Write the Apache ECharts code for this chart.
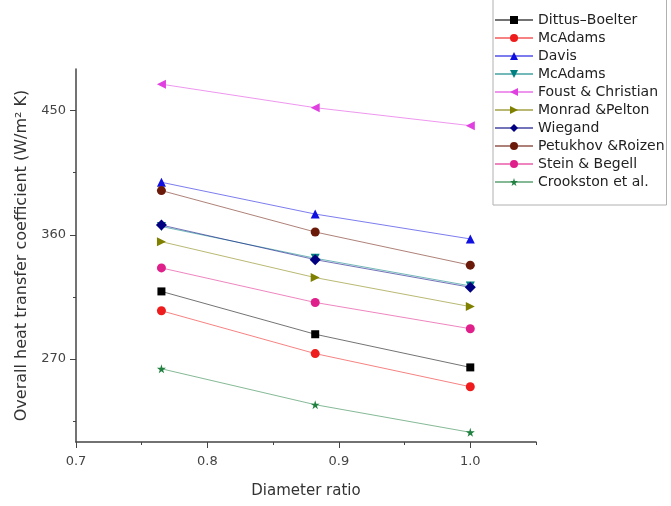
<!DOCTYPE html>
<html>
<head>
<meta charset="utf-8">
<script src="https://cdn.jsdelivr.net/npm/echarts@6/dist/echarts.min.js"></script>
<style>
html, body { margin: 0; padding: 0; background: #fff; }
#main { width: 671px; height: 506px; }
</style>
</head>
<body>
<div id="main"></div>
<script>
// diameter ratios
var ratios = [0.765, 0.882, 1.0];

var names = ['Dittus\u2013Boelter', 'McAdams', 'Davis', 'McAdams ', 'Foust & Christian',
	'Monrad &Pelton', 'Wiegand', 'Petukhov &Roizen', 'Stein & Begell', 'Crookston et al.'];

var dittus = [319, 288, 264];
var mcadamsA = [305, 274, 250];
var davis = [398, 375, 357];
var mcadamsB = [366, 343, 323];
var foust = [469, 452, 439];
var monrad = [355, 329, 308];
var wiegand = [367, 342, 322];
var petukhov = [392, 362, 338];
var stein = [336, 311, 292];
var crookston = [263, 237, 217];

var yLabels = [270, 360, 450];
var yMinor = [225, 315, 405];
var xLabels = [0.7, 0.8, 0.9, 1.0];
var xMinor = [0.75, 0.85, 0.95, 1.05];

var star = 'path://M50,0 L61,35 L98,35 L68,57 L79,91 L50,70 L21,91 L32,57 L2,35 L39,35 Z';

var looks = [
	{ color: '#000000', symbol: 'rect', rot: 0, size: 8 },
	{ color: '#ee1c1c', symbol: 'circle', rot: 0, size: 9 },
	{ color: '#1010e0', symbol: 'triangle', rot: 0, size: 9 },
	{ color: '#008080', symbol: 'triangle', rot: 180, size: 9 },
	{ color: '#e040e0', symbol: 'triangle', rot: 90, size: 9 },
	{ color: '#808000', symbol: 'triangle', rot: -90, size: 9 },
	{ color: '#000080', symbol: 'diamond', rot: 0, size: 11 },
	{ color: '#6b1a0a', symbol: 'circle', rot: 0, size: 9 },
	{ color: '#e0208a', symbol: 'circle', rot: 0, size: 9 },
	{ color: '#208040', symbol: star, rot: 0, size: 9 }
];
var values = [dittus, mcadamsA, davis, mcadamsB, foust, monrad, wiegand, petukhov, stein, crookston];

var font = '"DejaVu Sans", Arial, sans-serif';

var series = [];
for (var i = 0; i < names.length; i++) {
	var pts = [];
	for (var j = 0; j < ratios.length; j++) pts.push([ratios[j], values[i][j]]);
	series.push({
		name: names[i],
		type: 'line',
		xAxisIndex: 0,
		yAxisIndex: 0,
		data: pts,
		symbol: looks[i].symbol,
		symbolSize: looks[i].size,
		symbolRotate: looks[i].rot,
		showSymbol: true,
		itemStyle: { color: looks[i].color },
		lineStyle: { color: looks[i].color, width: 1, opacity: 0.55 },
		emphasis: { disabled: true },
		animation: false
	});
}

var chart = echarts.init(document.getElementById('main'));
chart.setOption({
	backgroundColor: '#ffffff',
	animation: false,
	legend: {
		orient: 'vertical',
		left: 493,
		top: -10,
		padding: [23, 2, 16, 1],
		itemWidth: 38,
		itemHeight: 10,
		itemGap: 4,
		borderColor: '#b0b0b0',
		borderWidth: 1,
		textStyle: { fontFamily: font, fontSize: 14, lineHeight: 14, color: '#222' }
	},
	grid: { left: 76, right: 135, top: 69, bottom: 64 },
	xAxis: [{
		type: 'value',
		min: 0.7,
		max: 1.05,
		name: 'Diameter ratio',
		nameLocation: 'middle',
		nameGap: 42,
		nameTextStyle: { fontFamily: font, fontSize: 15, color: '#333' },
		axisLine: { lineStyle: { color: '#444', width: 1.5 } },
		axisTick: { customValues: xLabels, length: 6, lineStyle: { color: '#444' } },
		axisLabel: {
			customValues: xLabels,
			margin: 13,
			fontFamily: font, fontSize: 13, color: '#444',
			formatter: function (v) { return v.toFixed(1); }
		},
		splitLine: { show: false }
	}, {
		type: 'value',
		min: 0.7,
		max: 1.05,
		position: 'bottom',
		axisLine: { show: false },
		axisTick: { customValues: xMinor, length: 3, lineStyle: { color: '#444' } },
		axisLabel: { show: false },
		splitLine: { show: false }
	}],
	yAxis: [{
		type: 'value',
		min: 210,
		max: 480,
		name: 'Overall heat transfer coefficient (W/m\u00b2 K)',
		nameLocation: 'middle',
		nameGap: 46,
		nameTextStyle: { fontFamily: font, fontSize: 16, color: '#333' },
		axisLine: { show: true, lineStyle: { color: '#444', width: 1.5 } },
		axisTick: { show: true, customValues: yLabels, length: 6, lineStyle: { color: '#444' } },
		axisLabel: { customValues: yLabels, margin: 10, fontFamily: font, fontSize: 13, color: '#444' },
		splitLine: { show: false }
	}, {
		type: 'value',
		min: 210,
		max: 480,
		position: 'left',
		axisLine: { show: false },
		axisTick: { show: true, customValues: yMinor, length: 3, lineStyle: { color: '#444' } },
		axisLabel: { show: false },
		splitLine: { show: false }
	}],
	series: series
});
</script>
</body>
</html>
